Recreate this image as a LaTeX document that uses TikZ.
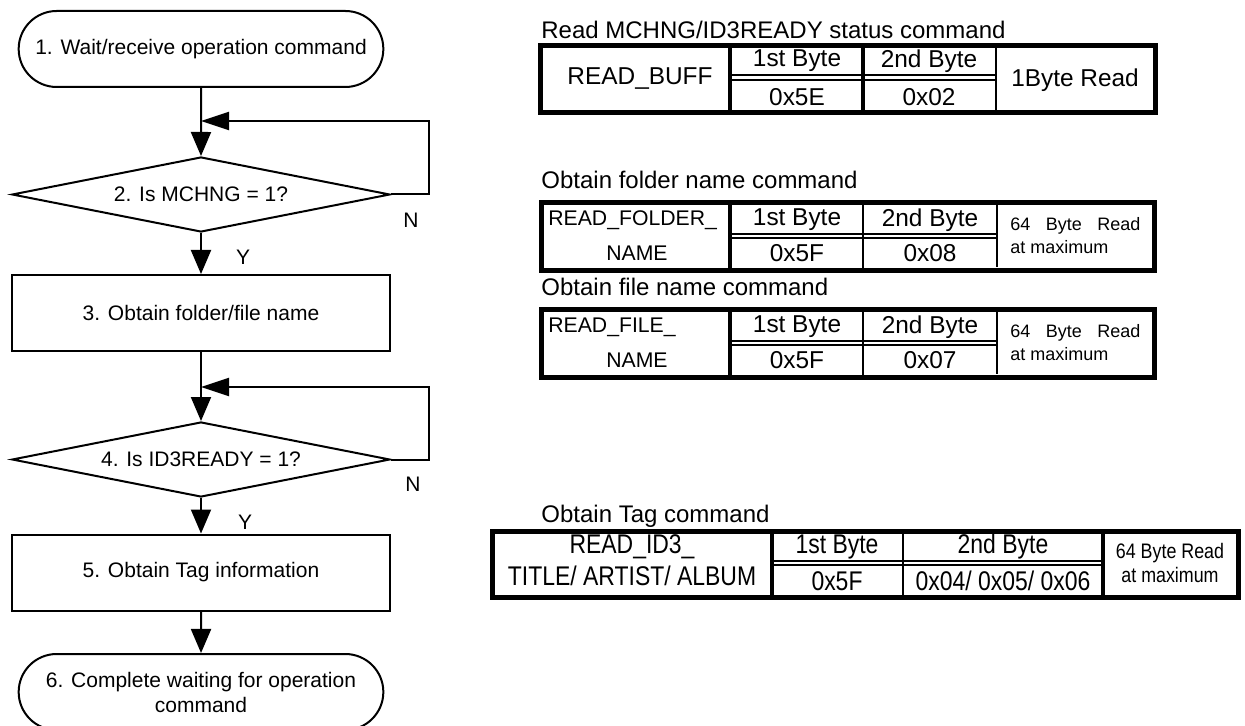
\documentclass[tikz,border=0pt]{standalone}
\usepackage{fontspec}
\setmainfont{Liberation Sans}
\newfontfamily\narrowfont[FakeStretch=0.85]{Liberation Sans}
\usetikzlibrary{shapes.geometric, shapes.misc, arrows.meta, positioning}
\tikzset{
  % blocchi del diagramma di flusso
  term/.style={rounded rectangle, draw, line width=1pt, minimum width=189pt,
    minimum height=38pt, align=center, font=\fontsize{10.5}{12.5}\selectfont},
  decision/.style={diamond, draw, line width=1pt, minimum width=189pt,
    minimum height=37.5pt, inner sep=0pt, aspect=6, font=\fontsize{10.5}{12.5}\selectfont},
  proc/.style={rectangle, draw, line width=1pt, minimum width=189pt,
    minimum height=38pt, font=\fontsize{10.5}{12.5}\selectfont},
  % frecce
  flow/.style={line width=1pt, -{Triangle[width=10pt,length=12pt]}},
  loopback/.style={line width=1pt, -{Triangle[width=9pt,length=14pt]}},
  yn/.style={font=\fontsize{10.5}{12.5}\selectfont, inner sep=0pt},
  % tabelle dei comandi
  ttl/.style={anchor=west, inner sep=0pt, font=\fontsize{12}{14}\selectfont},
  cell/.style={inner sep=0pt, font=\fontsize{12.2}{14}\selectfont},
  namecell/.style={inner sep=0pt, font=\fontsize{10.6}{12.5}\selectfont},
  smallcell/.style={inner sep=0pt, align=left, font=\fontsize{9}{11.5}\selectfont},
  narrowcell/.style={inner sep=0pt, align=center, font=\narrowfont\fontsize{13.5}{14.5}\selectfont},
  frame/.style={line width=2.5pt},
  heavy/.style={line width=2.2pt},
  thin/.style={line width=1pt},
}

\begin{document}
\begin{tikzpicture}[x=0.5pt, y=-0.5pt]
  \useasboundingbox (0,0) rectangle (1245,726);

  % diagramma di flusso
  \node[term] (wait) at (201,49) {1. Wait/receive operation command};
  \node[decision] (mchng) at (201,194.5) {2. Is MCHNG = 1?};
  \node[proc] (getname) at (201,313) {3. Obtain folder/file name};
  \node[decision] (ready) at (201,459.5) {4. Is ID3READY = 1?};
  \node[proc] (gettag) at (201,572.5) {5. Obtain Tag information};
  \node[term] (done) at (201,692) {6. Complete waiting for operation\\command};
  \coordinate (join1) at (201,121);
  \coordinate (join2) at (201,387);

  \draw[flow] (wait) -- (mchng);
  \draw[loopback] (mchng.east) -- ++(38,0) |- (join1);
  \draw[flow] (mchng) -- (getname);
  \draw[flow] (getname) -- (ready);
  \draw[loopback] (ready.east) -- ++(38,0) |- (join2);
  \draw[flow] (ready) -- (gettag);
  \draw[flow] (gettag) -- (done);
  \node[yn] (mchng-n) at (411,220) {N};
  \node[yn] (mchng-y) at (243,257) {Y};
  \node[yn] (ready-n) at (413,484) {N};
  \node[yn] (ready-y) at (245,522) {Y};

  % comando di stato
  \node[ttl] (stat-ttl) at (541,30) {Read MCHNG/ID3READY status command};
  \draw[frame] (540,46) rectangle (1155,113);
  \draw[heavy] (730,46) -- (730,113);
  \draw[line width=1.6pt] (863,46) -- (863,113);
  \draw[thin] (996,46) -- (996,113);
  \draw[line width=1.3pt] (730,75) -- (996,75);
  \draw[line width=0.8pt] (730,80) -- (996,80);
  \node[cell] (stat-rd) at (640,79) {READ\_BUFF};
  \node[cell] (stat-b1) at (797,61) {1st Byte};
  \node[cell] (stat-b2) at (929,61) {2nd Byte};
  \node[cell] (stat-v1) at (797,97) {0x5E};
  \node[cell] (stat-v2) at (929,97) {0x02};
  \node[cell] (stat-len) at (1075,80) {1Byte Read};

  % comandi nome cartella / nome file
  \foreach \nm/\top/\ttltxt/\rd/\lo in {fold/203/Obtain folder name command/READ\_FOLDER\_/0x08,
      file/310/Obtain file name command/READ\_FILE\_/0x07} {
    \node[ttl] (\nm-ttl) at (541,\top-23) {\ttltxt};
    \draw[frame] (541,\top) rectangle (1154,\top+68);
    \draw[heavy] (730,\top) -- (730,\top+68);
    \draw[thin] (863,\top) -- (863,\top+68);
    \draw[thin] (997,\top) -- (997,\top+64);
    \draw[line width=1.2pt] (730,\top+31) -- (997,\top+31);
    \draw[line width=0.8pt] (730,\top+35) -- (997,\top+35);
    \node[namecell, anchor=west] (\nm-rd) at (548,\top+17) {\rd};
    \node[namecell] (\nm-rd2) at (637,\top+50) {NAME};
    \node[cell] (\nm-b1) at (797,\top+17) {1st Byte};
    \node[cell] (\nm-b2) at (930,\top+17) {2nd Byte};
    \node[cell] (\nm-v1) at (797,\top+50) {0x5F};
    \node[cell] (\nm-v2) at (930,\top+50) {\lo};
    \node[smallcell, anchor=west] (\nm-len) at (1010,\top+33)
      {\makebox[65pt][s]{64 Byte Read}\\at maximum};
  }

  % comando tag
  \node[ttl] (tag-ttl) at (541,516) {Obtain Tag command};
  \draw[frame] (492,531) rectangle (1238,597);
  \draw[heavy] (772,531) -- (772,597);
  \draw[thin] (903,531) -- (903,597);
  \draw[heavy] (1103,531) -- (1103,597);
  \draw[line width=1.3pt] (772,561) -- (1103,561);
  \draw[line width=0.8pt] (772,565) -- (1103,565);
  \node[narrowcell] (tag-rd) at (632,547) {READ\_ID3\_};
  \node[narrowcell] (tag-rd2) at (632,576) {TITLE/ ARTIST/ ALBUM};
  \node[narrowcell] (tag-b1) at (837,547) {1st Byte};
  \node[narrowcell] (tag-b2) at (1003,547) {2nd Byte};
  \node[narrowcell] (tag-v1) at (837,581) {0x5F};
  \node[narrowcell] (tag-v2) at (1003,581) {0x04/ 0x05/ 0x06};
  \node[narrowcell, font=\narrowfont\fontsize{10.5}{12}\selectfont] (tag-len) at (1170,563)
    {64 Byte Read\\at maximum};
\end{tikzpicture}
\end{document}
